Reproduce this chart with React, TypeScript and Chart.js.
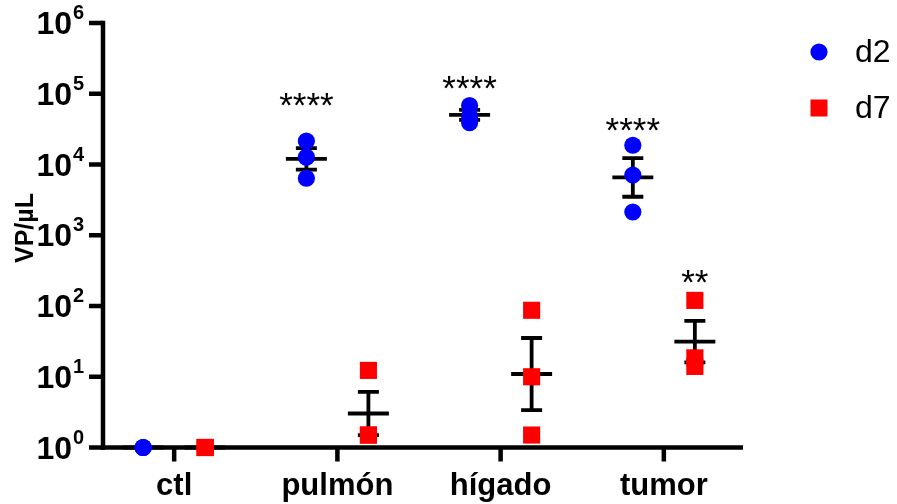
import React, { useEffect, useRef } from 'react';
import { Chart, registerables } from 'chart.js';

Chart.register(...registerables);

// ---------- data ----------
const categories = ['ctl', 'pulmón', 'hígado', 'tumor'];
const seriesNames = ['d2', 'd7'];
const seriesColors = ['#0000FF', '#FF0000'];
const d2Values = [
  [1, 1, 1],
  [21400, 12700, 6400],
  [68000, 48000, 39000],
  [18700, 7100, 2130],
];
const d7Values = [
  [1, 1, 1],
  [12.3, 1.5, 1.5],
  [87, 10, 1.5],
  [120, 18.5, 14],
];
const yTickExponents = [0, 1, 2, 3, 4, 5, 6];
const yTitle = 'VP/µL';
const starLabels = ['****', '****', '****', '**'];
const starCategory = [1, 2, 3, 3];
const starSeries = [0, 0, 0, 1];
const starValue = [90000, 156000, 40400, 281];

// ---------- helpers ----------
const FONT = '"Liberation Sans", Arial, Helvetica, sans-serif';
const SERIES_OFFSET = [-0.19, 0.19];

function logStats(vals: number[]) {
  const l = vals.map((v) => Math.log10(v));
  const n = l.length;
  const m = l.reduce((a, b) => a + b, 0) / n;
  const sd = n > 1 ? Math.sqrt(l.reduce((a, b) => a + (b - m) * (b - m), 0) / (n - 1)) : 0;
  const se = sd / Math.sqrt(n);
  return { mean: Math.pow(10, m), lo: Math.pow(10, m - se), hi: Math.pow(10, m + se) };
}

const allSeries = [d2Values, d7Values];

const decorPlugin = {
  id: 'decor',
  beforeDatasetsDraw(chart: any) {
    const { ctx, chartArea, scales } = chart;
    const x = scales.x;
    const y = scales.y;
    ctx.save();
    ctx.strokeStyle = '#000';
    ctx.fillStyle = '#000';
    ctx.lineCap = 'butt';
    const AX = 4.5;
    ctx.lineWidth = AX;
    const yTop = y.getPixelForValue(Math.pow(10, 6));
    const yBot = y.getPixelForValue(1);
    const xL = chartArea.left;
    const xR = chartArea.right;
    // axes
    ctx.beginPath();
    ctx.moveTo(xL, yTop - AX / 2);
    ctx.lineTo(xL, yBot + AX / 2);
    ctx.stroke();
    ctx.beginPath();
    ctx.moveTo(xL - AX / 2, yBot);
    ctx.lineTo(xR, yBot);
    ctx.stroke();
    // y ticks + labels
    yTickExponents.forEach((e) => {
      const py = y.getPixelForValue(Math.pow(10, e));
      ctx.beginPath();
      ctx.moveTo(xL - 14, py);
      ctx.lineTo(xL, py);
      ctx.stroke();
      ctx.font = `bold 32px ${FONT}`;
      ctx.textAlign = 'right';
      ctx.textBaseline = 'alphabetic';
      ctx.fillText('10', 72, py + 11);
      ctx.font = `bold 20px ${FONT}`;
      ctx.textAlign = 'left';
      ctx.fillText(String(e), 73, py - 4);
    });
    // x ticks + labels
    categories.forEach((c, i) => {
      const px = x.getPixelForValue(i);
      ctx.beginPath();
      ctx.moveTo(px, yBot);
      ctx.lineTo(px, yBot + 14);
      ctx.stroke();
      ctx.font = `bold 31px ${FONT}`;
      ctx.textAlign = 'center';
      ctx.textBaseline = 'alphabetic';
      ctx.fillText(c, px, 495);
    });
    // y title
    ctx.save();
    ctx.translate(33, 228);
    ctx.rotate(-Math.PI / 2);
    ctx.font = `bold 25px ${FONT}`;
    ctx.textAlign = 'center';
    ctx.textBaseline = 'alphabetic';
    ctx.fillText(yTitle, 0, 0);
    ctx.restore();
    // error bars (geometric mean ± SEM)
    ctx.lineWidth = 3.8;
    allSeries.forEach((series, s) => {
      series.forEach((vals, i) => {
        const st = logStats(vals);
        const px = x.getPixelForValue(i + SERIES_OFFSET[s]);
        const pm = y.getPixelForValue(st.mean);
        const plo = y.getPixelForValue(st.lo);
        const phi = y.getPixelForValue(st.hi);
        ctx.beginPath();
        ctx.moveTo(px - 20.5, pm);
        ctx.lineTo(px + 20.5, pm);
        ctx.stroke();
        if (phi !== plo) {
          ctx.beginPath();
          ctx.moveTo(px, phi);
          ctx.lineTo(px, plo);
          ctx.moveTo(px - 10.5, phi);
          ctx.lineTo(px + 10.5, phi);
          ctx.moveTo(px - 10.5, plo);
          ctx.lineTo(px + 10.5, plo);
          ctx.stroke();
        }
      });
    });
    ctx.restore();
  },
  afterDatasetsDraw(chart: any) {
    const { ctx, scales } = chart;
    const x = scales.x;
    const y = scales.y;
    ctx.save();
    ctx.fillStyle = '#000';
    ctx.font = `35px ${FONT}`;
    ctx.textAlign = 'center';
    ctx.textBaseline = 'alphabetic';
    starLabels.forEach((t, k) => {
      const px = x.getPixelForValue(starCategory[k] + SERIES_OFFSET[starSeries[k]]);
      const py = y.getPixelForValue(starValue[k]);
      ctx.fillText(t, px, py + 20);
    });
    // legend
    const lx = 819;
    const ly = [52, 108];
    seriesNames.forEach((name, s) => {
      ctx.fillStyle = seriesColors[s];
      if (s === 0) {
        ctx.beginPath();
        ctx.arc(lx, ly[s], 8.6, 0, Math.PI * 2);
        ctx.fill();
      } else {
        ctx.fillRect(lx - 8.5, ly[s] - 8.5, 17, 17);
      }
      ctx.fillStyle = '#000';
      ctx.font = `32px ${FONT}`;
      ctx.textAlign = 'left';
      ctx.textBaseline = 'middle';
      ctx.fillText(name, 855, ly[s] + 1);
    });
    ctx.restore();
  },
};

export default function App() {
  const ref = useRef<HTMLCanvasElement | null>(null);
  useEffect(() => {
    if (!ref.current) return;
    const datasets = allSeries.map((series, s) => ({
      label: seriesNames[s],
      data: series.flatMap((vals, i) => vals.map((v) => ({ x: i + SERIES_OFFSET[s], y: v }))),
      pointStyle: s === 0 ? 'circle' : 'rect',
      pointRadius: s === 0 ? 8.6 : 12.1,
      pointHoverRadius: s === 0 ? 8.6 : 12.1,
      pointBorderWidth: 0,
      backgroundColor: seriesColors[s],
      borderColor: seriesColors[s],
      showLine: false,
      clip: false as any,
    }));
    const chart = new Chart(ref.current, {
      type: 'scatter',
      data: { datasets },
      options: {
        animation: false,
        responsive: false,
        maintainAspectRatio: false,
        layout: { padding: { left: 103, right: 897 - 743, top: 23, bottom: 504 - 447.5 } },
        plugins: { legend: { display: false }, tooltip: { enabled: false } },
        events: [],
        scales: {
          x: { type: 'linear', min: -0.436, max: 3.485, display: false },
          y: { type: 'logarithmic', min: 1, max: 1e6, display: false },
        },
      },
      plugins: [decorPlugin],
    });
    return () => chart.destroy();
  }, []);
  return (
    <div style={{ position: 'absolute', left: 0, top: 0, width: 897, height: 504, background: '#fff' }}>
      <canvas ref={ref} width={897} height={504} style={{ display: 'block' }} />
    </div>
  );
}
